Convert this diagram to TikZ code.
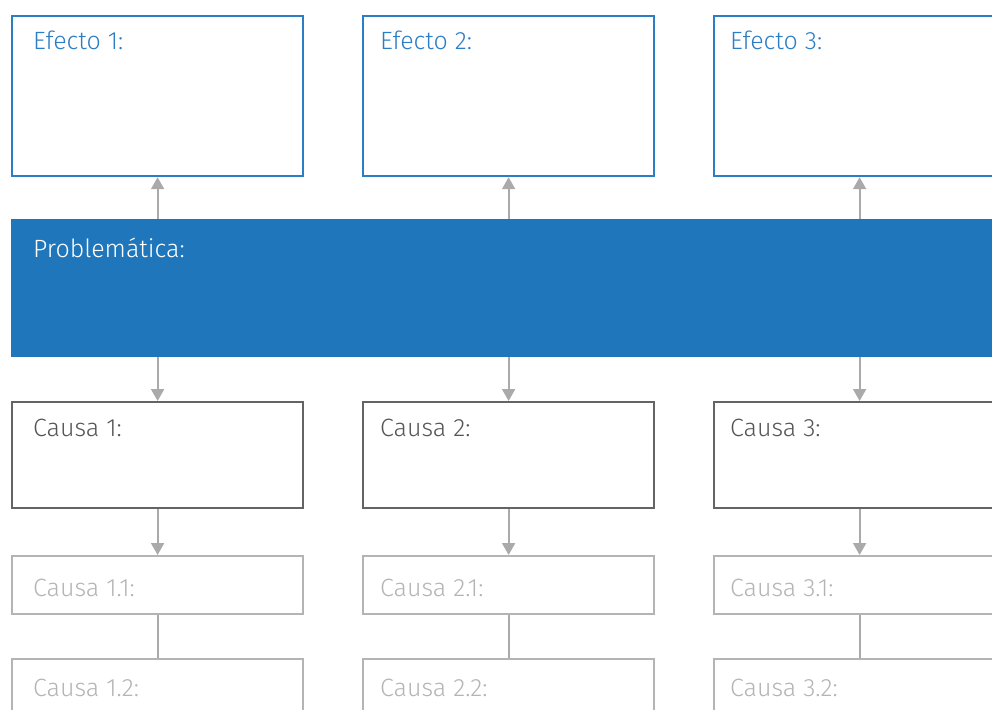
\documentclass[tikz,border=0pt]{standalone}
\usepackage{fontspec}
\IfFontExistsTF{Fira Sans Book}{\setmainfont{Fira Sans Book}}{\setmainfont{Fira Sans Light}}
\usetikzlibrary{arrows.meta}
\definecolor{azul}{RGB}{43,125,198}
\definecolor{azulfondo}{RGB}{31,118,187}
\definecolor{grisoscuro}{RGB}{100,100,100}
\definecolor{gristexto}{RGB}{85,85,85}
\definecolor{grisclaro}{RGB}{180,180,180}
\definecolor{flecha}{RGB}{170,170,170}
\tikzset{
	caja/.style = {anchor = north west, inner sep = 0pt, minimum width = 291pt, line width = 2.2pt},
	efecto/.style = {caja, draw = azul, minimum height = 160pt},
	causa/.style = {caja, draw = grisoscuro, minimum height = 106pt},
	subcausa/.style = {caja, draw = grisclaro, minimum height = 58pt},
	problema/.style = {anchor = north west, inner sep = 0pt, fill = azulfondo, minimum width = 1000pt, minimum height = 138pt},
	texto/.style = {anchor = base west, inner sep = 0pt, font = \fontsize{25}{30}\selectfont},
	conector/.style = {draw = flecha, line width = 2pt, -{Triangle[length = 12pt, width = 13pt]}},
	enlace/.style = {draw = flecha, line width = 2pt}
}

\begin{document}
\begin{tikzpicture}[x = 1pt, y = -1pt]
	\clip (0,0) rectangle (992,709);

	\node (e1)[efecto] at(11,15) {};
	\node (e2)[efecto] at(362,15) {};
	\node (e3)[efecto] at(713,15) {};

	\node (p)[problema] at(11,219) {};

	\node (c1)[causa] at(11,401) {};
	\node (c2)[causa] at(362,401) {};
	\node (c3)[causa] at(713,401) {};

	\node (c11)[subcausa] at(11,555) {};
	\node (c21)[subcausa] at(362,555) {};
	\node (c31)[subcausa] at(713,555) {};

	\node (c12)[subcausa] at(11,658) {};
	\node (c22)[subcausa] at(362,658) {};
	\node (c32)[subcausa] at(713,658) {};

	\node (te1)[texto, text = azul] at(33,49) {Efecto 1:};
	\node (te2)[texto, text = azul] at(380,49) {Efecto 2:};
	\node (te3)[texto, text = azul] at(730,49) {Efecto 3:};

	\node (tp)[texto, text = white] at(33,257) {Problemática:};

	\node (tc1)[texto, text = gristexto] at(33,436) {Causa 1:};
	\node (tc2)[texto, text = gristexto] at(380,436) {Causa 2:};
	\node (tc3)[texto, text = gristexto] at(730,436) {Causa 3:};

	\node (tc11)[texto, text = grisclaro] at(33,596) {Causa 1.1:};
	\node (tc21)[texto, text = grisclaro] at(380,596) {Causa 2.1:};
	\node (tc31)[texto, text = grisclaro] at(730,596) {Causa 3.1:};

	\node (tc12)[texto, text = grisclaro] at(33,696) {Causa 1.2:};
	\node (tc22)[texto, text = grisclaro] at(380,696) {Causa 2.2:};
	\node (tc32)[texto, text = grisclaro] at(730,696) {Causa 3.2:};

	\draw [conector](e1.south |- p.north)--(e1.south);
	\draw [conector](e2.south |- p.north)--(e2.south);
	\draw [conector](e3.south |- p.north)--(e3.south);

	\draw [conector](c1.north |- p.south)--(c1.north);
	\draw [conector](c2.north |- p.south)--(c2.north);
	\draw [conector](c3.north |- p.south)--(c3.north);

	\draw [conector](c1.south)--(c11.north);
	\draw [conector](c2.south)--(c21.north);
	\draw [conector](c3.south)--(c31.north);

	\draw [enlace](c11.south)--(c12.north);
	\draw [enlace](c21.south)--(c22.north);
	\draw [enlace](c31.south)--(c32.north);
\end{tikzpicture}
\end{document}
